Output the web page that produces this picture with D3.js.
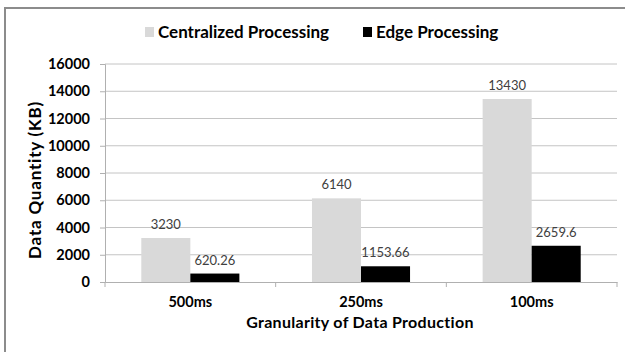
<!DOCTYPE html>
<html><head><meta charset="utf-8">
<script src="https://cdn.jsdelivr.net/npm/d3@7"></script>
<style>body{margin:0;background:#fff;}svg{display:block;}</style>
</head><body>
<script>
const categories = ["500ms", "250ms", "100ms"];
const seriesNames = ["Centralized Processing", "Edge Processing"];
const centralized = [3230, 6140, 13430];
const edge = [620.26, 1153.66, 2659.6];
const yTicks = [0, 2000, 4000, 6000, 8000, 10000, 12000, 14000, 16000];
const colors = ["#d9d9d9", "#000000"];
const labelsCentral = ["3230", "6140", "13430"];
const labelsEdge = ["620.26", "1153.66", "2659.6"];

const W = 625, H = 352;
const svg = d3.select("body").append("svg").attr("width", W).attr("height", H);
const font = "Lato, 'Open Sans', sans-serif";

// outer border (top and left visible)
svg.append("rect").attr("x", 5).attr("y", 8).attr("width", 640).attr("height", 360)
  .attr("fill", "none").attr("stroke", "#8c8c8c").attr("stroke-width", 2);

const pLeft = 105, pRight = 617, pTop = 64, pBottom = 282;
const x0 = d3.scaleBand().domain(categories).range([pLeft, pRight]).paddingInner(0).paddingOuter(0);
const x1 = d3.scaleBand().domain(seriesNames).range([0, x0.bandwidth()]).paddingInner(0).paddingOuter(0.74);
const y = d3.scaleLinear().domain([0, 16000]).range([pBottom, pTop]);

// gridlines
svg.append("g").selectAll("line").data(yTicks.filter(d => d > 0)).join("line")
  .attr("x1", pLeft).attr("x2", pRight)
  .attr("y1", d => y(d)).attr("y2", d => y(d))
  .attr("stroke", "#c4c4c4").attr("stroke-width", 1);

// y axis
const yAxis = d3.axisLeft(y).tickValues(yTicks).tickSize(5).tickPadding(10).tickFormat(d3.format("d"));
const gy = svg.append("g").attr("transform", `translate(${pLeft},0)`).call(yAxis);
gy.select(".domain").attr("stroke", "#b0b0b0");
gy.selectAll(".tick line").attr("stroke", "#b0b0b0");
gy.selectAll("text").attr("font-family", font).attr("font-weight", "bold")
  .attr("font-size", 14.5).attr("fill", "#000");

// bars
const data = categories.map((c, i) => ({cat: c, vals: [centralized[i], edge[i]], labels: [labelsCentral[i], labelsEdge[i]]}));
const groups = svg.append("g").selectAll("g").data(data).join("g")
  .attr("transform", d => `translate(${x0(d.cat)},0)`);
groups.selectAll("rect").data(d => d.vals.map((v, j) => ({name: seriesNames[j], v, j}))).join("rect")
  .attr("x", d => x1(d.name)).attr("width", x1.bandwidth())
  .attr("y", d => y(d.v)).attr("height", d => pBottom - y(d.v))
  .attr("fill", d => colors[d.j]);
groups.selectAll("text").data(d => d.vals.map((v, j) => ({name: seriesNames[j], v, j, label: d.labels[j]}))).join("text")
  .attr("x", d => x1(d.name) + x1.bandwidth() / 2).attr("y", d => y(d.v) - 9)
  .attr("text-anchor", "middle").attr("font-family", font).attr("font-size", 13)
  .attr("fill", "#404040").text(d => d.label);

// x axis
const xAxis = d3.axisBottom(x0).tickSize(0).tickPadding(15);
const gx = svg.append("g").attr("transform", `translate(0,${pBottom})`).call(xAxis);
gx.select(".domain").attr("stroke", "#b0b0b0");
gx.selectAll("text").attr("font-family", font).attr("font-weight", "bold")
  .attr("font-size", 14.5).attr("fill", "#000");
// category separator ticks
svg.append("g").selectAll("line").data(categories.concat(["end"])).join("line")
  .attr("x1", (d, i) => i < categories.length ? x0(d) : pRight)
  .attr("x2", (d, i) => i < categories.length ? x0(d) : pRight)
  .attr("y1", pBottom).attr("y2", pBottom + 5).attr("stroke", "#b0b0b0");

// axis titles
svg.append("text").attr("x", 360).attr("y", 328).attr("text-anchor", "middle")
  .attr("font-family", font).attr("font-weight", "bold").attr("font-size", 16)
  .attr("letter-spacing", 0.3).attr("fill", "#000")
  .text("Granularity of Data Production");
svg.append("text").attr("transform", `translate(41,180) rotate(-90)`).attr("text-anchor", "middle")
  .attr("font-family", font).attr("font-weight", "bold").attr("font-size", 17)
  .attr("letter-spacing", 0.8).attr("fill", "#000")
  .text("Data Quantity (KB)");

// legend
const legendX = [145, 363];
const lg = svg.append("g").selectAll("g").data(seriesNames).join("g")
  .attr("transform", (d, i) => `translate(${legendX[i]},27)`);
lg.append("rect").attr("width", 9).attr("height", 10).attr("fill", (d, i) => colors[i]);
lg.append("text").attr("x", 13).attr("y", 11).attr("font-family", font).attr("font-weight", "bold")
  .attr("font-size", 17).attr("fill", "#000").text(d => d);
</script>
</body></html>
